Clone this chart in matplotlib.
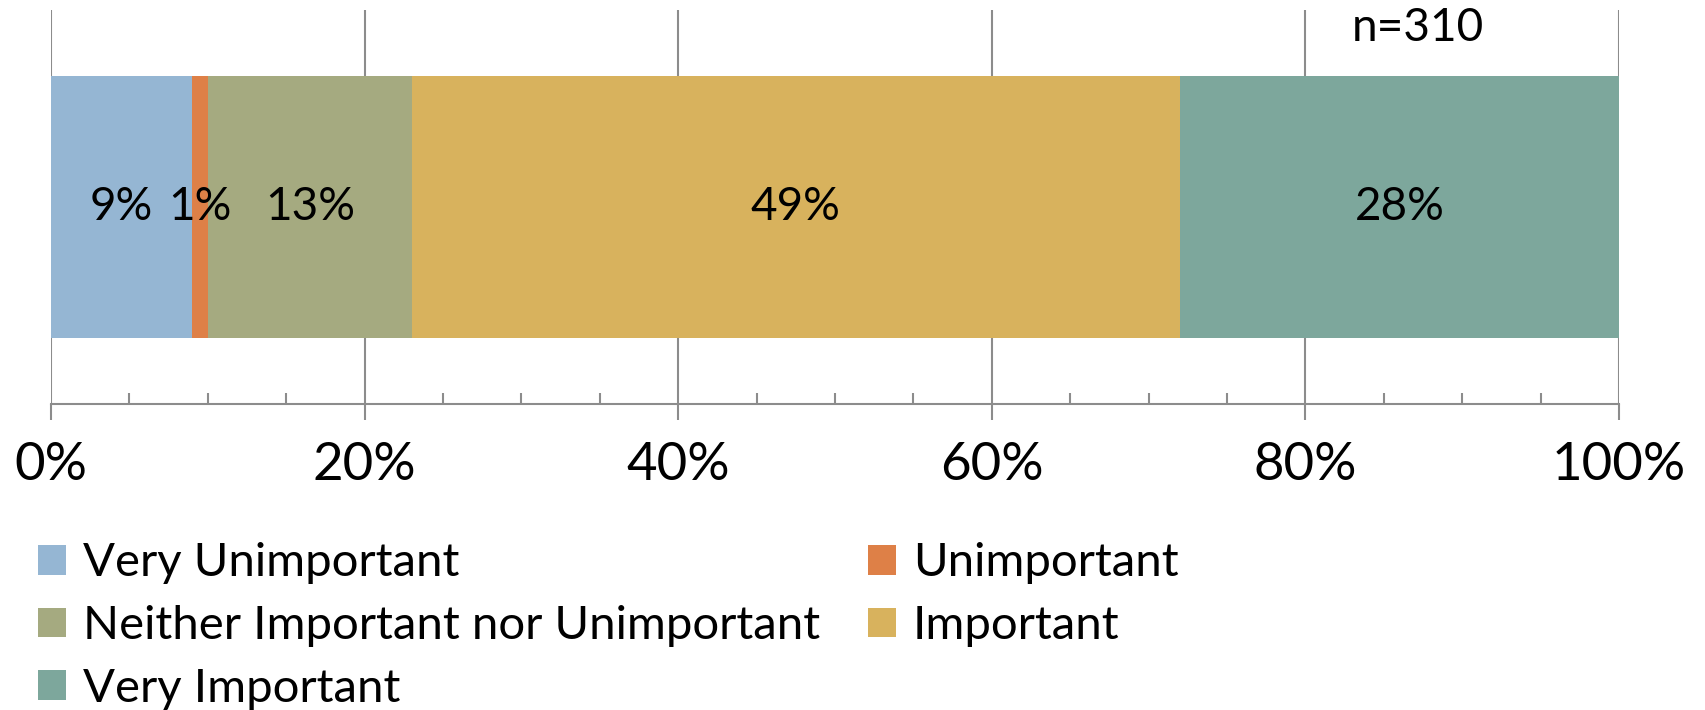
import matplotlib
matplotlib.use("Agg")
import matplotlib.pyplot as plt
from matplotlib.patches import Patch
from matplotlib.ticker import MultipleLocator, FuncFormatter

# Survey responses (percent of respondents)
categories = ["Very Unimportant", "Unimportant", "Neither Important nor Unimportant",
              "Important", "Very Important"]
values = [9, 1, 13, 49, 28]
colors = ["#95B6D3", "#DE8047", "#A5AA80", "#D8B25D", "#7DA79C"]
sample_note = "n=310"

plt.rcParams["font.family"] = ["Lato", "DejaVu Sans"]
GRID = "#8c8c8c"

fig = plt.figure(figsize=(17.05, 7.10), dpi=100)
ax = fig.add_axes([51 / 1705, 306 / 710, 1568 / 1705, 394 / 710])

left = 0
for cat, val, col in zip(categories, values, colors):
    ax.barh(0, val, left=left, height=0.665, color=col, label=cat, zorder=2)
    ax.text(left + val / 2, 0, f"{val}%", ha="center", va="center",
            fontsize=33, color="black", zorder=3)
    left += val

ax.set_xlim(0, 100)
ax.set_ylim(-0.5, 0.5)
ax.set_yticks([])

ax.xaxis.set_major_locator(MultipleLocator(20))
ax.xaxis.set_minor_locator(MultipleLocator(5))
ax.xaxis.set_major_formatter(FuncFormatter(lambda v, p: f"{v:.0f}%"))
ax.tick_params(axis="x", which="major", direction="out", length=11.5, width=1.5,
               color=GRID, labelsize=38, pad=16)
ax.tick_params(axis="x", which="minor", direction="in", length=8, width=1.5, color=GRID)
ax.grid(True, axis="x", which="major", color=GRID, linewidth=1.5, zorder=1)
ax.set_axisbelow(True)

for side in ("top", "left", "right"):
    ax.spines[side].set_visible(False)
ax.spines["bottom"].set_color(GRID)
ax.spines["bottom"].set_linewidth(1.5)

ax.text(0.872, 0.954, sample_note, transform=ax.transAxes, ha="center", va="center",
        fontsize=33, color="black")

# Legend laid out row by row: column 1 gets items 0, 2, 4; column 2 gets 1, 3
order = [0, 2, 4, 1, 3]
handles = [Patch(facecolor=colors[i], edgecolor="none") for i in order]
labels = [categories[i] for i in order]
fig.legend(handles, labels, loc="upper left", bbox_to_anchor=(38 / 1705, 0.236),
           ncol=2, frameon=False, fontsize=34, handlelength=0.593, handleheight=0.593,
           handletextpad=0.35, borderpad=0, borderaxespad=0, columnspacing=1.03,
           labelspacing=0.44)

fig.savefig("out.png", dpi=100)
